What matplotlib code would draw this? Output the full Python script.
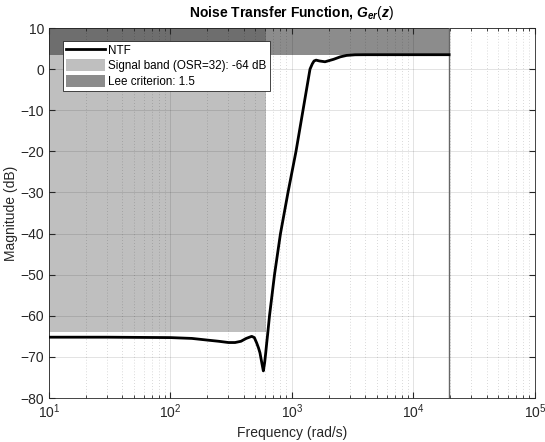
import matplotlib
matplotlib.use('Agg')
import matplotlib.pyplot as plt
from matplotlib.ticker import LogLocator, FixedLocator

plt.rcParams['font.family'] = ['Liberation Sans', 'DejaVu Sans']
plt.rcParams['mathtext.fontset'] = 'custom'
plt.rcParams['mathtext.it'] = 'Liberation Sans:italic:bold'
plt.rcParams['mathtext.rm'] = 'Liberation Sans'
plt.rcParams['mathtext.bf'] = 'Liberation Sans:bold'

# NTF magnitude
freq = [10, 30, 100, 150, 200, 250, 300, 340, 380, 420, 466, 490, 512, 530,
        545, 565, 581, 595, 608, 620, 632, 653, 718, 804, 927, 1079,
        1232, 1407, 1470, 1520, 1580, 1680, 1870, 2200, 2500, 2818, 3300,
        4000, 6000, 10000, 19635]
mag = [-65.2, -65.2, -65.3, -65.5, -65.9, -66.2, -66.5, -66.5, -66.2, -65.5,
       -65.0, -65.3, -66.6, -67.8, -69.0, -71.5, -73.4, -71.5, -69.0, -66.5,
       -64.2, -60, -50, -40, -30, -20, -10, 0, 1.3, 2.0, 2.2, 2.0, 1.8,
       2.4, 3.0, 3.35, 3.5, 3.52, 3.52, 3.52, 3.52]

f_min = 10
f_band = 19635 / 32
f_nyq = 19635
band_db = -64
lee_db = 3.52
y_top = 10
y_bottom = -80

fig = plt.figure(figsize=(5.45, 4.42), dpi=100)
ax = fig.add_axes([0.0899, 0.0995, 0.8917, 0.837])

band = ax.fill_between([f_min, f_band], band_db, y_top, color='#bfbfbf',
                       linewidth=0, zorder=1, label='Signal band (OSR=32): -64 dB')
lee = ax.fill_between([f_min, f_nyq], lee_db, y_top, color='#8c8c8c',
                      linewidth=0, zorder=1, label='Lee criterion: 1.5')
ax.fill_between([f_min, f_band], lee_db, y_top, color='#6e6e6e',
                linewidth=0, zorder=1.1)
ax.axvline(f_nyq, color='#666666', linewidth=1.0, zorder=2.6)
ntf, = ax.plot(freq, mag, color='black', linewidth=2, zorder=3, label='NTF')

ax.set_xscale('log')
ax.set_xlim(10, 1e5)
ax.set_ylim(y_bottom, y_top)
ax.yaxis.set_major_locator(FixedLocator(list(range(-80, 11, 10))))
ax.xaxis.set_minor_locator(LogLocator(base=10, subs=range(2, 10)))

ax.set_axisbelow(False)
ax.grid(True, which='major', color='black', alpha=0.13, linewidth=0.6)
ax.grid(True, which='minor', axis='x', color='black', alpha=0.2,
        linewidth=0.6, linestyle=(0, (1, 2.5)))

ax.tick_params(which='both', direction='in', top=True, right=True,
               labelsize=10, colors='#262626', labelcolor='#262626')
ax.tick_params(which='major', length=4)
ax.tick_params(which='minor', length=2.5)
for s in ax.spines.values():
    s.set_color('#262626')
    s.set_linewidth(0.6)

ax.set_xlabel('Frequency (rad/s)', fontsize=10, color='#262626', labelpad=3)
ax.set_ylabel('Magnitude (dB)', fontsize=10, color='#262626', labelpad=2)
ax.set_title(r'Noise Transfer Function, $G_{er}(z)$', fontsize=10,
             fontweight='bold', pad=8)

leg = ax.legend(handles=[ntf, band, lee], loc='upper left',
                bbox_to_anchor=(0.028, 0.966), fontsize=8.4, frameon=True,
                fancybox=False, edgecolor='#262626', framealpha=1,
                handlelength=3.3, handleheight=1.2, labelspacing=0.2,
                handletextpad=0.3, borderpad=0.3, borderaxespad=0)
leg.get_frame().set_linewidth(0.6)
leg.set_zorder(5)

fig.savefig('out.png', dpi=100)
